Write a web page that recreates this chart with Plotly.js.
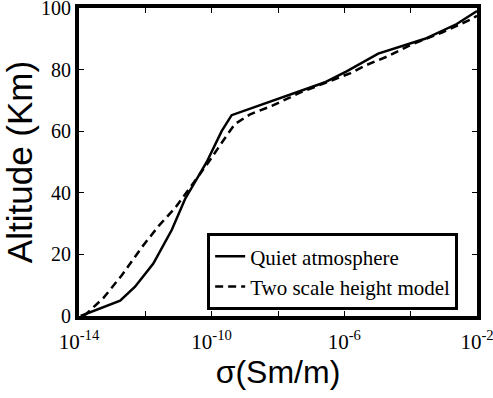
<!DOCTYPE html>
<html>
<head>
<meta charset="utf-8">
<script src="https://cdn.plot.ly/plotly-3.0.1.min.js"></script>
<style>html,body{margin:0;padding:0;background:#fff;}#chart{width:493px;height:398px;}</style>
</head>
<body>
<div id="chart"></div>
<script>
// Quiet atmosphere (solid): conductivity sigma (S/m) vs altitude (km)
var quietSigma = [1.12e-14, 1.74e-13, 4.9e-13, 1.74e-12, 6.3e-12, 1.58e-11, 7.1e-11, 2.0e-10, 4.0e-10, 4.6e-8, 2.5e-7, 1.17e-6, 1.05e-5, 2.7e-4, 2.45e-3, 1e-2];
var quietAlt   = [0, 5, 9.5, 17, 28, 38, 50, 60, 65.2, 73, 75.8, 79.4, 85.2, 90, 94.8, 99];

// Two scale height model (dashed)
var modelSigma = [1.41e-14, 5.4e-14, 1.95e-13, 7.8e-13, 2.5e-12, 7.9e-12, 2.0e-11, 8.9e-11, 2.24e-10, 5.0e-10, 1.45e-9, 6.5e-9, 4.6e-8, 1.48e-6, 4.7e-6, 1.9e-5, 9.5e-5, 9.5e-4, 6.9e-3, 1e-2];
var modelAlt   = [0, 5.8, 13.2, 22.3, 29.2, 35.1, 41, 50.6, 57, 62.3, 65.5, 68.2, 72.5, 78.8, 81.5, 84.2, 87.9, 92.2, 96.4, 97.5];

var seriesNames = ["Quiet atmosphere", "Two scale height model"];

// tick positions / labels
var xTickVals = [1e-14, 1e-12, 1e-10, 1e-8, 1e-6, 1e-4, 1e-2];
var xTickText = ["10<sup>-14</sup>", "", "10<sup>-10</sup>", "", "10<sup>-6</sup>", "", "10<sup>-2</sup>"];
var yTickVals = [0, 20, 40, 60, 80, 100];

var traces = [
  {x: quietSigma, y: quietAlt, mode: "lines", name: seriesNames[0],
   line: {color: "#000", width: 2.5}},
  {x: modelSigma, y: modelAlt, mode: "lines", name: seriesNames[1],
   line: {color: "#000", width: 2.5, dash: "8px,5px"}}
];

var SERIF = "'Liberation Serif'";
var SANS = "'Liberation Sans'";

var layout = {
  width: 493, height: 398,
  margin: {l: 79, r: 16, t: 8, b: 82, pad: 0},
  paper_bgcolor: "#fff", plot_bgcolor: "#fff",
  font: {family: SERIF, size: 20, color: "#000"},
  showlegend: true,
  xaxis: {
    type: "log", range: [-14, -2],
    tickvals: xTickVals, ticktext: xTickText,
    ticks: "inside", ticklen: 5, tickwidth: 1, tickcolor: "#000",
    showline: true, linewidth: 4, linecolor: "#000", mirror: "allticks",
    showgrid: false, zeroline: false,
    ticklabeloverflow: "allow", ticklabelstandoff: 4,
    tickfont: {family: SERIF, size: 21, color: "#000"},
    title: {text: "σ(Sm/m)", font: {family: SANS, size: 32, color: "#000"}, standoff: 6}
  },
  yaxis: {
    range: [0, 100],
    tickvals: yTickVals,
    ticks: "inside", ticklen: 5, tickwidth: 1, tickcolor: "#000",
    showline: true, linewidth: 4, linecolor: "#000", mirror: "allticks",
    showgrid: false, zeroline: false,
    ticklabeloverflow: "allow",
    tickfont: {family: SERIF, size: 20, color: "#000"},
    title: {text: "Altitude (Km)", font: {family: SANS, size: 35, color: "#000"}, standoff: 2}
  },
  legend: {
    x: 0.322, y: 0.269, xanchor: "left", yanchor: "top",
    bgcolor: "#fff", bordercolor: "#000", borderwidth: 3,
    font: {family: SERIF, size: 21, color: "#000"},
    itemwidth: 30, tracegroupgap: 0
  }
};

Plotly.newPlot("chart", traces, layout, {staticPlot: true, displayModeBar: false});
</script>
</body>
</html>
